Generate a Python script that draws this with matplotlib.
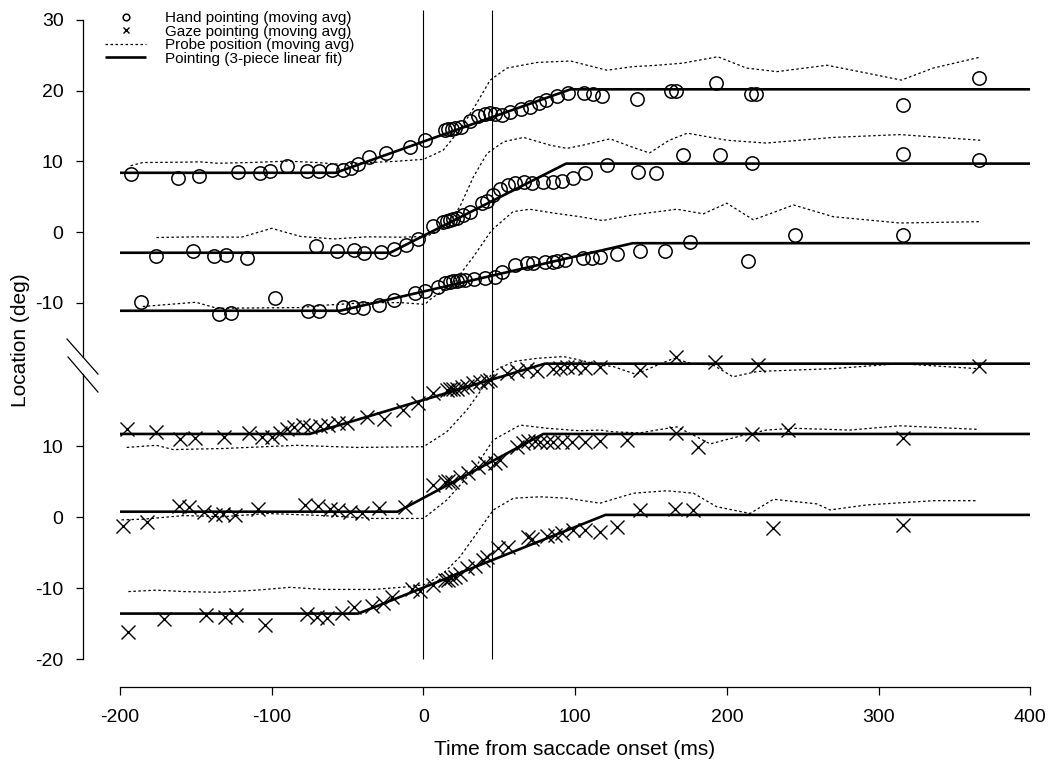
import matplotlib
matplotlib.use('Agg')
import matplotlib.pyplot as plt

plt.rcParams['font.family'] = ['Liberation Sans', 'DejaVu Sans']
plt.rcParams['axes.unicode_minus'] = False

# ---------------- data (time in ms, location in deg) ----------------
# Hand pointing, upper panel
hand1_t = [-193, -162, -148, -122, -108, -101, -90, -76.5, -69, -60, -53, -48, -43, -36, -25, -9, 1, 14, 16.5, 18.5,
           21, 25, 31, 36, 40.5, 44, 47, 51.5, 57, 64, 70, 76, 81, 88, 95.5, 105.5, 112, 118, 141, 163,
           166.5, 193, 216, 219, 316, 366]
hand1_y = [8.2, 7.7, 7.95, 8.45, 8.4, 8.65, 9.35, 8.65, 8.7, 8.8, 8.8, 9.1, 9.6, 10.6, 11.15, 12.1, 13.0, 14.45, 14.55, 14.65,
           14.7, 14.9, 15.75, 16.4, 16.7, 16.8, 16.7, 16.6, 17.05, 17.4, 17.75, 18.2, 18.7, 19.2, 19.7, 19.7, 19.5, 19.25, 18.9, 20.0,
           20.0, 21.1, 19.5, 19.5, 18.0, 21.75]
hand1_fit_t = [-200, -58, 97, 400]
hand1_fit_y = [8.4, 8.4, 20.2, 20.2]
probe1_t = [-193, -185, -158, -147, -136, -114, -90, -70, -55, -37, -20, 0, 13, 24, 35, 44, 55, 75, 86, 97,
            108, 121, 138, 154, 171, 194, 213, 233, 266, 292, 315, 336, 366]
probe1_y = [9.4, 9.85, 9.9, 9.95, 9.75, 9.85, 10.05, 9.85, 9.6, 9.85, 10.0, 10.3, 11.6, 14.45, 18.2, 21.5, 23.2, 24.0, 24.1, 24.2,
            23.6, 22.9, 23.4, 23.6, 23.9, 24.8, 23.2, 22.7, 23.6, 22.5, 21.5, 23.2, 24.7]

hand2_t = [-176, -152, -138, -130, -116.5, -71, -57, -46, -39, -28, -19.5, -11.5, -3.4, 6.6, 13, 15.4, 17.5, 19.7, 22, 26.3,
           30.7, 38.4, 41.7, 45.6, 50.5, 56, 60.4, 66, 71.4, 79, 85.7, 91.2, 98.8, 106.5, 120.8, 141.3, 153.3, 171.3, 195.5, 216.8,
           316.4, 366.4]
hand2_y = [-3.35, -2.6, -3.3, -3.2, -3.6, -1.95, -2.65, -2.5, -2.9, -2.75, -2.4, -1.8, -1.0, 0.9, 1.5, 1.65, 1.75, 1.8, 1.95, 2.45,
           2.9, 4.1, 4.45, 5.25, 6.05, 6.7, 6.9, 7.15, 7.0, 7.15, 7.15, 7.3, 7.7, 8.4, 9.5, 8.55, 8.4, 10.9, 10.9, 9.85,
           11.0, 10.2]
hand2_fit_t = [-200, -22, 94, 400]
hand2_fit_y = [-2.9, -2.9, 9.7, 9.7]
probe2_t = [-176, -150, -120, -100, -81, -59, -37, -15, 2, 15, 24, 33, 42, 53, 66, 83.5, 94.5, 105, 123, 138,
            149, 162, 174, 200, 226, 270, 314, 367]
probe2_y = [-0.75, -0.65, -0.7, 0.55, -0.6, -0.95, -0.65, -0.7, -0.6, 0.8, 3.6, 7.85, 11.15, 12.8, 13.4, 12.3, 11.85, 12.3, 13.2, 12.0,
            11.2, 13.0, 14.0, 13.0, 12.6, 13.4, 13.8, 13.0]

hand3_t = [-186, -134.5, -127, -98, -76, -69, -53, -46.5, -40, -29, -19.5, -5.6, 1, 9.8, 14.2, 17.5, 19.7, 22, 24, 27.4,
           33, 40.6, 47.2, 51.6, 60.4, 68, 72.4, 80, 85.7, 88, 93.4, 105.4, 111, 116.4, 127.4, 143, 159, 176, 213.7, 245,
           316.4]
hand3_y = [-9.9, -11.55, -11.45, -9.35, -11.1, -11.1, -10.6, -10.6, -10.75, -10.3, -9.6, -8.55, -8.3, -7.8, -7.2, -7.1, -6.95, -6.85, -6.75, -6.75,
           -6.65, -6.5, -6.3, -5.6, -4.65, -4.3, -4.3, -4.15, -4.15, -4.0, -3.9, -3.7, -3.7, -3.55, -3.05, -2.6, -2.6, -1.45, -4.0, -0.4,
           -0.4]
hand3_fit_t = [-200, -55, 138, 400]
hand3_fit_y = [-11.1, -11.1, -1.55, -1.55]
probe3_t = [-185, -150, -136, -110, -81, -64, -37, -15, 1, 4.4, 19.7, 33, 45, 59, 70, 86, 103, 118, 138, 167,
            184.5, 200, 217.5, 244, 270, 314, 367]
probe3_y = [-10.5, -9.9, -10.75, -10.7, -10.65, -10.3, -9.95, -9.95, -10.2, -9.5, -7.2, -3.45, 0.3, 2.9, 3.25, 2.7, 2.2, 1.65, 2.45, 3.25,
            2.6, 4.1, 1.75, 3.85, 2.2, 1.3, 1.5]

# Gaze pointing, lower panel
gaze1_t = [-195.6, -176.3, -160.4, -150.6, -131.2, -114.8, -106.6, -100, -94.5, -90.1, -85.3, -79.2, -74.8, -68.2, -62.7, -56.1,
           -50.6, -37.4, -25.8, -13.3, -3.4, 6.6, 15.4, 17.5, 19.7, 21.9, 25.2, 28.5, 32.9, 37.3, 41.7, 43.9, 54.9, 61.5, 68.1,
           74.7, 85.6, 90.1, 94.5, 99.9, 106.5, 116.4, 142.8, 166.5, 192.2, 220.8, 366.2]
gaze1_y = [12.35, 12.0, 11.0, 11.15, 11.3, 11.85, 11.3, 11.3, 11.8, 12.35, 12.65, 12.95, 12.65, 12.8, 12.95, 13.2,
           13.3, 14.05, 13.75, 15.05, 16.0, 17.4, 17.9, 18.1, 18.0, 18.1, 18.25, 18.45, 18.85, 19.05, 19.2, 19.3, 20.3, 20.6, 20.8,
           20.6, 20.8, 20.95, 21.15, 21.15, 20.95, 21.15, 20.7, 22.5, 21.9, 21.4, 21.25]
gaze1_fit_t = [-200, -75, 80, 400]
gaze1_fit_y = [11.7, 11.7, 21.6, 21.6]
gprobe1_t = [-195.6, -176, -165, -132, -83.5, -44, 0, 15.4, 28.5, 37.3, 46, 59.3, 74.7, 92.3, 103.2, 116.4, 125, 140, 152, 165,
             177, 191, 204, 220, 270, 314, 365]
gprobe1_y = [9.8, 10.1, 9.5, 9.65, 10.1, 9.8, 9.9, 12.0, 15.05, 17.65, 20.5, 21.9, 22.35, 22.6, 22.1, 21.4, 21.2, 20.1, 21.2, 22.35,
             21.6, 21.4, 19.75, 20.5, 20.9, 21.6, 20.9]

gaze2_t = [-197.8, -182, -160.9, -154.5, -144.4, -137.4, -131.9, -124.2, -108.8, -78, -69.3, -61.6, -56.1, -48.4, -40.7, -29.1,
           -12.1, 6.6, 14.2, 16.4, 18.6, 24.1, 29.6, 36.2, 40.6, 47.2, 50.5, 61.5, 65.9, 69.2, 73.6, 76.9, 81.3, 85.7, 91.2,
           97.8, 106.5, 116.4, 134, 166.5, 181.2, 216.8, 240.5, 316.4]
gaze2_y = [-1.2, -0.65, 1.6, 1.45, 0.75, 0.3, 0.4, 0.3, 1.1, 1.7, 1.6, 1.2, 1.0, 0.65, 0.5, 1.3,
           1.45, 4.5, 4.95, 5.1, 4.95, 5.7, 6.15, 7.1, 7.55, 7.65, 8.05, 9.9, 10.4, 10.75, 10.75, 10.6, 10.6, 10.6, 10.6,
           10.6, 10.6, 10.75, 10.9, 11.8, 9.9, 11.65, 12.25, 11.2]
gaze2_fit_t = [-200, -17, 79, 400]
gaze2_fit_y = [0.75, 0.75, 11.7, 11.7]
gprobe2_t = [-199, -184.6, -158, -132, -103, -66, -33, 0, 15.4, 33, 46, 63.7, 81.3, 103, 116.4, 125, 142.8, 153.8, 167, 180,
             189, 208.7, 226, 244, 281, 314, 365]
gprobe2_y = [-0.4, -0.3, 0.2, 0.05, 0.5, 0.2, -0.2, -0.2, 2.4, 6.6, 10.85, 12.95, 12.5, 12.15, 12.25, 12.0, 11.85, 12.25, 12.7, 11.3,
             10.3, 11.4, 12.25, 12.5, 12.25, 12.85, 12.35]

gaze3_t = [-194.5, -171, -143.3, -130.8, -123.7, -104.4, -76.9, -70.3, -63.3, -53.9, -45.7, -34.1, -26.5, -20.9, -7.8, -2.2,
           6.3, 14.2, 16.2, 18.2, 20.8, 24.1, 28.7, 34, 39.3, 41.7, 49.4, 56, 69.2, 71.4, 81.3, 86.8, 91.2, 98.8, 106.5,
           116.4, 127.4, 142.8, 165.9, 177.9, 230.2, 316.4]
gaze3_y = [-16.15, -14.4, -13.8, -14.05, -13.8, -15.2, -13.65, -14.15, -14.25, -13.55, -12.7, -12.6, -12.15, -11.3, -10.2, -10.4,
           -9.6, -8.9, -8.9, -8.6, -8.45, -8.0, -7.2, -6.9, -6.05, -5.6, -4.4, -4.25, -2.85, -3.15, -2.7, -2.55, -2.3, -1.85, -1.85,
           -2.05, -1.35, 1.0, 1.2, 1.0, -1.6, -1.15]
gaze3_fit_t = [-200, -43, 120, 400]
gaze3_fit_y = [-13.6, -13.6, 0.3, 0.3]
gprobe3_t = [-194.5, -176, -158, -136, -110, -88, -66, -33, -8.8, 2.2, 14.2, 24.1, 35.1, 46.1, 59.3, 76.9, 94.5, 116.4, 138.4, 160.4,
             178, 193.3, 215.3, 230.7, 259.3, 268, 292.2, 336, 365]
gprobe3_y = [-10.5, -10.3, -10.5, -10.6, -10.3, -9.9, -10.2, -10.2, -9.8, -9.45, -7.7, -5.6, -2.3, 1.0, 2.65, 2.85, 2.65, 1.95, 3.35, 3.7,
             3.35, 1.45, 0.5, 2.5, 1.85, 1.0, 1.7, 2.3, 2.3]

event_times = [0, 45]
x_ticks = [-200, -100, 0, 100, 200, 300, 400]
top_yticks = [30, 20, 10, 0, -10]
bot_yticks = [10, 0, -10, -20]
legend_labels = ['Hand pointing (moving avg)', 'Gaze pointing (moving avg)',
                 'Probe position (moving avg)', 'Pointing (3-piece linear fit)']

# ---------------- layout ----------------
W, H = 1051, 765
fig = plt.figure(figsize=(W / 100, H / 100), dpi=100)
L, R, T, B = 83, 1030.3, 10, 687
rect = [L / W, 1 - B / H, (R - L) / W, (B - T) / H]
ax_b = fig.add_axes(rect)
ax_t = fig.add_axes(rect, sharex=ax_b)
ax_t.patch.set_visible(False)

ax_b.set_xlim(-224.4, 400)
ax_t.set_ylim(-64.28, 31.41)
ax_b.set_ylim(-23.94, 71.41)

circ = dict(ls='none', marker='o', ms=9.6, mfc='none', mec='black', mew=1.1)
cross = dict(ls='none', marker='x', ms=9.5, color='black', mew=1.0)
fitk = dict(color='black', lw=1.9, solid_capstyle='butt')
probek = dict(color='black', lw=0.9, ls=(0, (2, 2)))

# upper (hand) panel
for pt, py in [(probe1_t, probe1_y), (probe2_t, probe2_y), (probe3_t, probe3_y)]:
    h_probe, = ax_t.plot(pt, py, **probek)
for ft, fy in [(hand1_fit_t, hand1_fit_y), (hand2_fit_t, hand2_fit_y), (hand3_fit_t, hand3_fit_y)]:
    h_fit, = ax_t.plot(ft, fy, **fitk)
for ht, hy in [(hand1_t, hand1_y), (hand2_t, hand2_y), (hand3_t, hand3_y)]:
    h_hand, = ax_t.plot(ht, hy, **circ)

# lower (gaze) panel
for pt, py in [(gprobe1_t, gprobe1_y), (gprobe2_t, gprobe2_y), (gprobe3_t, gprobe3_y)]:
    ax_b.plot(pt, py, **probek)
for ft, fy in [(gaze1_fit_t, gaze1_fit_y), (gaze2_fit_t, gaze2_fit_y), (gaze3_fit_t, gaze3_fit_y)]:
    ax_b.plot(ft, fy, **fitk)
for gt, gy in [(gaze1_t, gaze1_y), (gaze2_t, gaze2_y), (gaze3_t, gaze3_y)]:
    h_gaze, = ax_b.plot(gt, gy, **cross)

# event lines
ax_b.vlines(event_times, -20, ax_b.get_ylim()[1], color='black', lw=0.8)

# ---------------- axes styling ----------------
for ax in (ax_t, ax_b):
    ax.spines['top'].set_visible(False)
    ax.spines['right'].set_visible(False)
    ax.spines['left'].set_linewidth(0.9)
    ax.tick_params(axis='y', direction='out', length=5, width=0.9, pad=9, labelsize=14)
ax_t.spines['bottom'].set_visible(False)
ax_t.tick_params(axis='x', bottom=False, labelbottom=False)
ax_t.spines['left'].set_bounds(-17.6, 30)
ax_b.spines['left'].set_bounds(-20, 20.1)
ax_b.spines['bottom'].set_bounds(-200, 400)
ax_b.spines['bottom'].set_linewidth(0.9)
ax_t.set_yticks(top_yticks)
ax_b.set_yticks(bot_yticks)
ax_b.set_xticks(x_ticks)
ax_b.tick_params(axis='x', direction='out', length=5.5, width=0.9, pad=10, labelsize=14)

# axis break marks
for (x0, y0, x1, y1) in [(-0.0169, 0.514, 0.0158, 0.4623), (-0.0158, 0.4874, 0.0158, 0.4357)]:
    ax_b.plot([x0, x1], [y0, y1], transform=ax_b.transAxes, color='black', lw=0.9, clip_on=False)

ax_b.set_xlabel('Time from saccade onset (ms)', fontsize=15)
ax_b.xaxis.set_label_coords((575 - L) / (R - L), (B - 740) / (B - T))
ax_b.set_ylabel('Location (deg)', fontsize=15)
ax_b.yaxis.set_label_coords((30 - L) / (R - L), 1 - (340 - T) / (B - T))

ax_t.legend(handles=[h_hand, h_gaze, h_probe, h_fit], labels=legend_labels,
            loc='upper left', bbox_to_anchor=(105 / W, 1 - 11 / H), bbox_transform=fig.transFigure,
            frameon=False, fontsize=11, markerscale=0.5, handlelength=2.7, handletextpad=1.2,
            labelspacing=-0.03, borderpad=0, borderaxespad=0)

fig.savefig('out.png', dpi=100)
